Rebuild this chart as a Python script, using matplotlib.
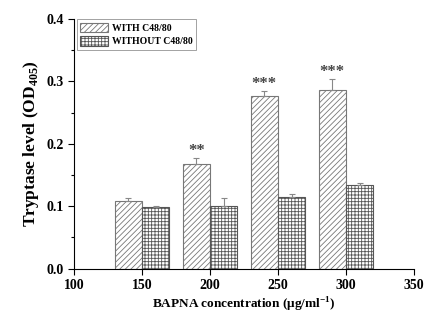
import numpy as np
import matplotlib
matplotlib.use("Agg")
import matplotlib.pyplot as plt
from matplotlib.ticker import MultipleLocator

plt.rcParams['font.family'] = ['Liberation Serif', 'DejaVu Serif']
plt.rcParams['font.weight'] = 'bold'
plt.rcParams['mathtext.fontset'] = 'custom'
plt.rcParams['mathtext.bf'] = 'Liberation Serif:bold'
plt.rcParams['mathtext.rm'] = 'Liberation Serif:bold'
plt.rcParams['hatch.linewidth'] = 0.6

# data
conc = [150, 200, 250, 300]
with_c48 = [0.108, 0.168, 0.276, 0.286]
with_err = [0.005, 0.009, 0.009, 0.018]
without_c48 = [0.098, 0.100, 0.115, 0.134]
without_err = [0.003, 0.013, 0.004, 0.004]
stars = ['', '**', '***', '***']

fig = plt.figure(figsize=(4.48, 3.24), dpi=100)
ax = fig.add_axes([0.165, 0.171, 0.759, 0.770])

x = np.array(conc)
w = 20
zeros = np.zeros(len(conc))
ax.bar(x - w / 2, with_c48, width=w, color='white', edgecolor='#777777',
       hatch='//////', linewidth=0.8, label='WITH C48/80',
       yerr=[zeros, with_err], error_kw=dict(ecolor='#888888', elinewidth=0.8,
                                            capsize=2, capthick=0.8))
ax.bar(x + w / 2, without_c48, width=w, color='white', edgecolor='#555555',
       hatch='+++++', linewidth=0.8, label='WITHOUT C48/80',
       yerr=[zeros, without_err], error_kw=dict(ecolor='#888888', elinewidth=0.8,
                                               capsize=2, capthick=0.8))

for xi, v, e, s in zip(x, with_c48, with_err, stars):
    if s:
        ax.text(xi - w / 2, v + e - 0.002, s, ha='center', va='bottom',
                fontsize=12, color='#444444', fontweight='bold')

ax.set_xlim(100, 350)
ax.set_ylim(0, 0.4)
ax.xaxis.set_major_locator(MultipleLocator(50))
ax.yaxis.set_major_locator(MultipleLocator(0.1))
ax.yaxis.set_minor_locator(MultipleLocator(0.05))
ax.yaxis.set_major_formatter(plt.FormatStrFormatter('%.1f'))
ax.tick_params(which='both', direction='out', labelsize=10, width=0.8)
ax.tick_params(which='major', length=4)
ax.tick_params(which='minor', length=2.5)
for lab in ax.get_xticklabels() + ax.get_yticklabels():
    lab.set_fontweight('bold')
for side in ['top', 'right']:
    ax.spines[side].set_visible(False)
for side in ['left', 'bottom']:
    ax.spines[side].set_linewidth(0.8)

ax.set_xlabel('BAPNA concentration (\u03bcg/ml$^{-1}$)', fontsize=9.5,
              fontweight='bold', labelpad=3)
ax.set_ylabel('Tryptase level (OD$_{405}$)', fontsize=12.5,
              fontweight='bold', labelpad=4)

leg = ax.legend(loc='upper left', bbox_to_anchor=(0.008, 1.0), fontsize=7,
                frameon=True, fancybox=False, edgecolor='#777777',
                handlelength=2.9, handleheight=1.2, borderpad=0.35,
                labelspacing=0.35, handletextpad=0.35, borderaxespad=0.0)
leg.get_frame().set_linewidth(0.6)

fig.savefig('out.png', dpi=100)
